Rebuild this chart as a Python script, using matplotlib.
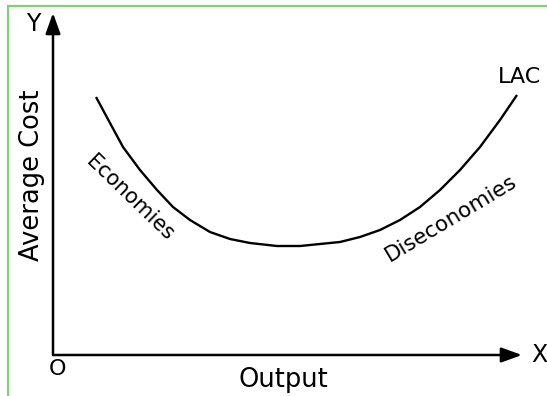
import matplotlib
matplotlib.use("Agg")
import matplotlib.pyplot as plt
from matplotlib.patches import Rectangle

# LAC curve (output, average cost); origin at the axes corner
output = [43, 57, 70, 87, 104, 120, 137, 157, 177, 197, 224, 247, 267, 287,
          307, 327, 347, 367, 387, 407, 427, 447, 464]
avg_cost = [258, 232, 208, 185, 165, 148, 135, 123, 116, 112, 109, 109, 111, 113,
            118, 125, 135, 148, 165, 185, 208, 235, 260]

curve_name = "LAC"
left_label = "Economies"
right_label = "Diseconomies"
x_label = "Output"
y_label = "Average Cost"

W, H = 547, 396
fig = plt.figure(figsize=(W / 100, H / 100), dpi=100)
fig.patch.set_facecolor("white")
ax = fig.add_axes([0, 0, 1, 1])
ax.set_xlim(-53, W - 53)
ax.set_ylim(355 - H, 355)
ax.axis("off")

font = "DejaVu Sans"

# green frame (left and top edges visible)
fig.patches.append(Rectangle((8 / W, -0.1), 1.2, (H - 6) / H + 0.1,
                             transform=fig.transFigure, fill=False,
                             edgecolor="#80d078", linewidth=1.6))

# axes with arrows
arrow = dict(arrowstyle="-|>,head_length=1.25,head_width=0.45",
             color="black", lw=1.8, shrinkA=0, shrinkB=0)
ax.annotate("", xy=(0, 342), xytext=(0, 0), arrowprops=arrow)
ax.annotate("", xy=(469, 0), xytext=(0, 0), arrowprops=arrow)

# curve
ax.plot(output, avg_cost, color="black", lw=1.7, solid_joinstyle="round",
        solid_capstyle="butt")

# texts
ax.text(-20, 331, "Y", fontsize=17, family=font, ha="center", va="center")
ax.text(486, 0, "X", fontsize=17, family=font, ha="center", va="center")
ax.text(4, -14, "O", fontsize=16, family=font, ha="center", va="center")
ax.text(230, -25, x_label, fontsize=18.5, family=font, ha="center", va="center")
ax.text(-21, 180, y_label, fontsize=18.5, family=font, ha="center", va="center",
        rotation=90)
ax.text(467, 278, curve_name, fontsize=16, family=font, ha="center", va="center")
ax.text(77, 157, left_label, fontsize=15, family=font, ha="center", va="center",
        rotation=-44, rotation_mode="anchor")
ax.text(398, 137, right_label, fontsize=15.5, family=font, ha="center", va="center",
        rotation=31, rotation_mode="anchor")

fig.savefig("out.png", dpi=100, facecolor="white")
